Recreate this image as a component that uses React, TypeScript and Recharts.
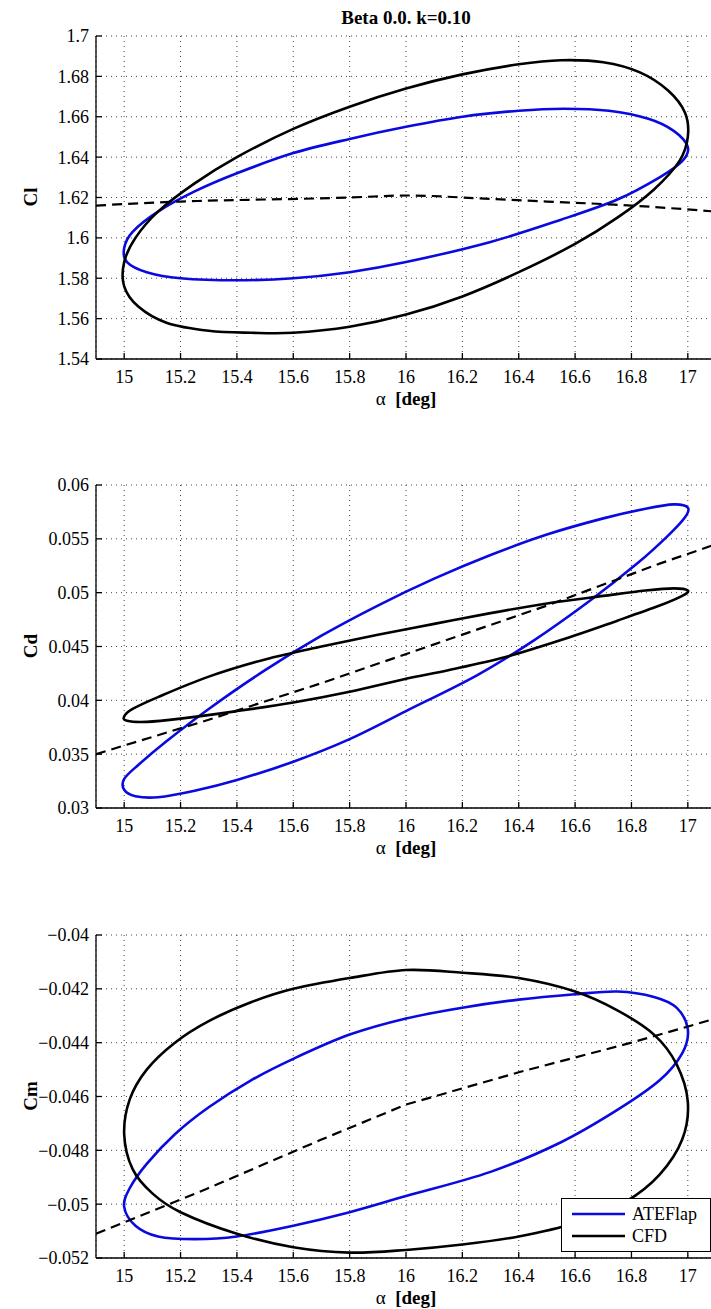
import React from 'react'
import { LineChart, Line, XAxis, YAxis, CartesianGrid, Legend } from 'recharts'

// angle of attack ticks (shared by all three panels)
const alphaTicks = [15, 15.2, 15.4, 15.6, 15.8, 16, 16.2, 16.4, 16.6, 16.8, 17]
const alphaLabels = ['15', '15.2', '15.4', '15.6', '15.8', '16', '16.2', '16.4', '16.6', '16.8', '17']

const clTicks = [1.54, 1.56, 1.58, 1.6, 1.62, 1.64, 1.66, 1.68, 1.7]
const clLabels = ['1.54', '1.56', '1.58', '1.6', '1.62', '1.64', '1.66', '1.68', '1.7']
const cdTicks = [0.03, 0.035, 0.04, 0.045, 0.05, 0.055, 0.06]
const cdLabels = ['0.03', '0.035', '0.04', '0.045', '0.05', '0.055', '0.06']
const cmTicks = [-0.052, -0.05, -0.048, -0.046, -0.044, -0.042, -0.04]
const cmLabels = ['\u22120.052', '\u22120.05', '\u22120.048', '\u22120.046', '\u22120.044', '\u22120.042', '\u22120.04']

// Cl
const clAteAlpha = [16.0, 15.8, 15.6, 15.4, 15.2, 15.08, 15.01, 15.0, 15.03, 15.12, 15.25, 15.4, 15.6, 15.8, 16.0, 16.2, 16.4, 16.56, 16.72, 16.86, 16.95, 17.0, 16.98, 16.9, 16.75, 16.55, 16.3, 16.0]
const clAteVal = [1.588, 1.583, 1.58, 1.579, 1.58, 1.583, 1.588, 1.595, 1.603, 1.613, 1.623, 1.632, 1.642, 1.649, 1.655, 1.66, 1.663, 1.664, 1.663, 1.659, 1.653, 1.645, 1.638, 1.63, 1.619, 1.609, 1.598, 1.588]
const clCfdAlpha = [16.0, 15.8, 15.6, 15.45, 15.3, 15.15, 15.05, 15.0, 15.0, 15.04, 15.12, 15.25, 15.4, 15.6, 15.8, 16.0, 16.2, 16.4, 16.55, 16.7, 16.83, 16.93, 16.99, 17.0, 16.97, 16.88, 16.75, 16.6, 16.4, 16.2, 16.0]
const clCfdVal = [1.562, 1.556, 1.553, 1.553, 1.554, 1.558, 1.566, 1.576, 1.588, 1.6, 1.613, 1.627, 1.64, 1.654, 1.665, 1.674, 1.681, 1.686, 1.688, 1.687, 1.682, 1.673, 1.662, 1.65, 1.638, 1.624, 1.61, 1.597, 1.583, 1.571, 1.562]
const clStaticAlpha = [14.9, 15.2, 15.5, 15.8, 16.0, 16.2, 16.5, 16.8, 17.1]
const clStaticVal = [1.616, 1.618, 1.619, 1.62, 1.621, 1.62, 1.618, 1.616, 1.613]

// Cd
const cdAteAlpha = [16.0, 15.8, 15.6, 15.4, 15.25, 15.12, 15.04, 15.0, 15.0, 15.05, 15.15, 15.3, 15.5, 15.7, 15.9, 16.1, 16.3, 16.5, 16.7, 16.85, 16.95, 17.0, 16.99, 16.93, 16.82, 16.65, 16.45, 16.25, 16.0]
const cdAteVal = [0.039, 0.0364, 0.0343, 0.0326, 0.0316, 0.031, 0.0311, 0.0317, 0.0327, 0.034, 0.0362, 0.0392, 0.0428, 0.046, 0.0488, 0.0513, 0.0535, 0.0554, 0.0569, 0.0578, 0.0582, 0.0579, 0.057, 0.0553, 0.0527, 0.0492, 0.0455, 0.0423, 0.039]
const cdCfdAlpha = [16.0, 15.8, 15.6, 15.4, 15.2, 15.08, 15.01, 15.0, 15.03, 15.12, 15.3, 15.5, 15.7, 15.9, 16.1, 16.3, 16.5, 16.7, 16.85, 16.95, 17.0, 16.98, 16.9, 16.75, 16.55, 16.35, 16.15, 16.0]
const cdCfdVal = [0.042, 0.0408, 0.0398, 0.039, 0.0383, 0.038, 0.0381, 0.0385, 0.0392, 0.0403, 0.0422, 0.0438, 0.045, 0.0461, 0.0471, 0.0481, 0.049, 0.0497, 0.0502, 0.0504, 0.0502, 0.0497, 0.0488, 0.0474, 0.0456, 0.044, 0.0428, 0.042]
const cdStaticAlpha = [14.9, 15.3, 15.7, 16.1, 16.5, 16.9, 17.1]
const cdStaticVal = [0.035, 0.0382, 0.0416, 0.0452, 0.0488, 0.0527, 0.0545]

// Cm
const cmAteAlpha = [16.0, 15.8, 15.6, 15.4, 15.25, 15.12, 15.04, 15.0, 15.02, 15.08, 15.18, 15.3, 15.45, 15.6, 15.8, 16.0, 16.2, 16.4, 16.6, 16.75, 16.88, 16.96, 17.0, 16.98, 16.9, 16.75, 16.55, 16.3, 16.0]
const cmAteVal = [-0.0497, -0.0503, -0.0508, -0.0512, -0.0513, -0.0512, -0.0508, -0.0501, -0.0494, -0.0485, -0.0474, -0.0464, -0.0454, -0.0446, -0.0437, -0.0431, -0.0427, -0.0424, -0.0422, -0.0421, -0.0423, -0.0427, -0.0435, -0.0444, -0.0454, -0.0465, -0.0477, -0.0488, -0.0497]
const cmCfdAlpha = [16.0, 15.8, 15.6, 15.4, 15.2, 15.1, 15.03, 15.0, 15.02, 15.08, 15.18, 15.3, 15.45, 15.6, 15.8, 16.0, 16.2, 16.4, 16.6, 16.75, 16.88, 16.96, 17.0, 16.98, 16.9, 16.78, 16.6, 16.4, 16.2, 16.0]
const cmCfdVal = [-0.0517, -0.0518, -0.0516, -0.0511, -0.0503, -0.0496, -0.0487, -0.0474, -0.0461, -0.045, -0.044, -0.0432, -0.0425, -0.042, -0.0416, -0.0413, -0.0414, -0.0416, -0.0421, -0.0428, -0.0437, -0.0448, -0.0462, -0.0476, -0.0489, -0.0499, -0.0507, -0.0512, -0.0515, -0.0517]
const cmStaticAlpha = [14.9, 15.3, 15.7, 16.0, 16.4, 16.8, 17.1]
const cmStaticVal = [-0.0511, -0.0494, -0.0476, -0.0463, -0.0451, -0.0440, -0.0431]

const BLUE = '#0a0ae0'
const FONT = '"Liberation Serif", "Times New Roman", serif'
const TICK = { fontSize: 18, fill: '#000', fontFamily: FONT }

const toPts = (a: number[], v: number[]) => a.map((x, i) => ({ a: x, v: v[i] }))

// closed Catmull-Rom curve so the hysteresis loops join without a kink
const closedLoop = (context: any) => {
  let pts: number[][] = []
  return {
    areaStart() {},
    areaEnd() {},
    lineStart() { pts = [] },
    point(x: number, y: number) { pts.push([x, y]) },
    lineEnd() {
      const last = pts[pts.length - 1]
      if (pts.length > 2 && last[0] === pts[0][0] && last[1] === pts[0][1]) pts.pop()
      const n = pts.length
      if (!n) return
      context.moveTo(pts[0][0], pts[0][1])
      for (let i = 0; i < n; i++) {
        const p0 = pts[(i - 1 + n) % n]
        const p1 = pts[i]
        const p2 = pts[(i + 1) % n]
        const p3 = pts[(i + 2) % n]
        context.bezierCurveTo(
          p1[0] + (p2[0] - p0[0]) / 6, p1[1] + (p2[1] - p0[1]) / 6,
          p2[0] - (p3[0] - p1[0]) / 6, p2[1] - (p3[1] - p1[1]) / 6,
          p2[0], p2[1],
        )
      }
      context.closePath()
    },
  }
}

const YLabel = (text: string) => () => (
  <text x={30} y={197} transform="rotate(-90 30 197)" textAnchor="middle" dominantBaseline="central"
    fontWeight="bold" fontSize={19} fontFamily={FONT} fill="#000">{text}</text>
)

const XLabel = () => (
  <text x={406} y={398} textAnchor="middle" dominantBaseline="central" fontSize={19} fontFamily={FONT} fill="#000">
    <tspan>{'\u03b1'}</tspan>
    <tspan fontWeight="bold">{'\u00a0 [deg]'}</tspan>
  </text>
)

const renderLegend = (props: any) => {
  const items = (props.payload || []).filter((p: any) => p.type !== 'none')
  return (
    <div style={{ width: 148, height: 48, border: '1px solid #000', background: '#fff', paddingTop: 4, boxSizing: 'content-box', fontFamily: FONT, fontSize: 18 }}>
      {items.map((p: any) => (
        <div key={p.value} style={{ display: 'flex', alignItems: 'center', height: 22, paddingLeft: 10 }}>
          <svg width={53} height={4} style={{ marginRight: 7 }}>
            <line x1={0} y1={2} x2={53} y2={2} stroke={p.color} strokeWidth={2.5} />
          </svg>
          <span>{p.value}</span>
        </div>
      ))}
    </div>
  )
}

type PanelProps = {
  top: number
  yTicks: number[]
  yLabels: string[]
  yName: string
  ate: { a: number; v: number }[]
  cfd: { a: number; v: number }[]
  stat: { a: number; v: number }[]
  statCurve?: 'natural' | 'linear'
  legend?: boolean
}

const Panel = ({ top, yTicks, yLabels, yName, ate, cfd, stat, statCurve = 'natural', legend }: PanelProps) => {
  const yDomain = [yTicks[0], yTicks[yTicks.length - 1]]
  return (
    <div style={{ position: 'absolute', left: 0, top }}>
      <LineChart width={720} height={420} margin={{ top: 36, right: 4, bottom: 0, left: 0 }}>
        <CartesianGrid stroke="#444" strokeDasharray="1 4" strokeWidth={1} />
        <XAxis dataKey="a" type="number" domain={[14.9, 17.1]} allowDataOverflow ticks={alphaTicks}
          tickFormatter={(_v: number, i: number) => alphaLabels[i]} height={61}
          tickSize={-6} tickMargin={17} stroke="#000" strokeWidth={1.3}
          tick={TICK} label={XLabel} />
        <XAxis xAxisId="top" orientation="top" dataKey="a" type="number" domain={[14.9, 17.1]} allowDataOverflow
          ticks={alphaTicks} height={0} tickSize={-6} tick={false} stroke="#000" strokeWidth={1.3} />
        <YAxis type="number" domain={yDomain} allowDataOverflow ticks={yTicks} width={96}
          tickFormatter={(_v: number, i: number) => yLabels[i]} tickSize={-6} tickMargin={13}
          stroke="#000" strokeWidth={1.3} tick={TICK} label={YLabel(yName)} />
        <YAxis yAxisId="right" orientation="right" type="number" domain={yDomain} allowDataOverflow ticks={yTicks}
          width={0} tickSize={-6} tick={false} stroke="#000" strokeWidth={1.3} />
        <Line data={ate} dataKey="v" name="ATEFlap" type={closedLoop as any} stroke={BLUE} strokeWidth={2.6} dot={false} isAnimationActive={false} />
        <Line data={cfd} dataKey="v" name="CFD" type={closedLoop as any} stroke="#000" strokeWidth={2.6} dot={false} isAnimationActive={false} />
        <Line data={stat} dataKey="v" name="static" legendType="none" type={statCurve} stroke="#000" strokeWidth={2.2}
          strokeDasharray="10 6" dot={false} isAnimationActive={false} />
        {legend && (
          <Legend layout="vertical" align="center" verticalAlign="middle" content={renderLegend}
            wrapperStyle={{ position: 'absolute', left: 561, top: 299, width: 150, height: 52 }} />
        )}
      </LineChart>
    </div>
  )
}

export default function App() {
  return (
    <div style={{ position: 'fixed', left: 0, top: 0, width: 711, height: 1309, overflow: 'hidden', background: '#fff', fontFamily: FONT }}>
      <div style={{ position: 'absolute', left: 306, top: 7, width: 200, textAlign: 'center', fontWeight: 'bold', fontSize: 19, lineHeight: '22px' }}>
        Beta 0.0. k=0.10
      </div>
      <Panel top={0} yTicks={clTicks} yLabels={clLabels} yName="Cl"
        ate={toPts(clAteAlpha, clAteVal)} cfd={toPts(clCfdAlpha, clCfdVal)} stat={toPts(clStaticAlpha, clStaticVal)} />
      <Panel top={449} yTicks={cdTicks} yLabels={cdLabels} yName="Cd" statCurve="linear"
        ate={toPts(cdAteAlpha, cdAteVal)} cfd={toPts(cdCfdAlpha, cdCfdVal)} stat={toPts(cdStaticAlpha, cdStaticVal)} />
      <Panel top={899} yTicks={cmTicks} yLabels={cmLabels} yName="Cm" legend statCurve="linear"
        ate={toPts(cmAteAlpha, cmAteVal)} cfd={toPts(cmCfdAlpha, cmCfdVal)} stat={toPts(cmStaticAlpha, cmStaticVal)} />
    </div>
  )
}
